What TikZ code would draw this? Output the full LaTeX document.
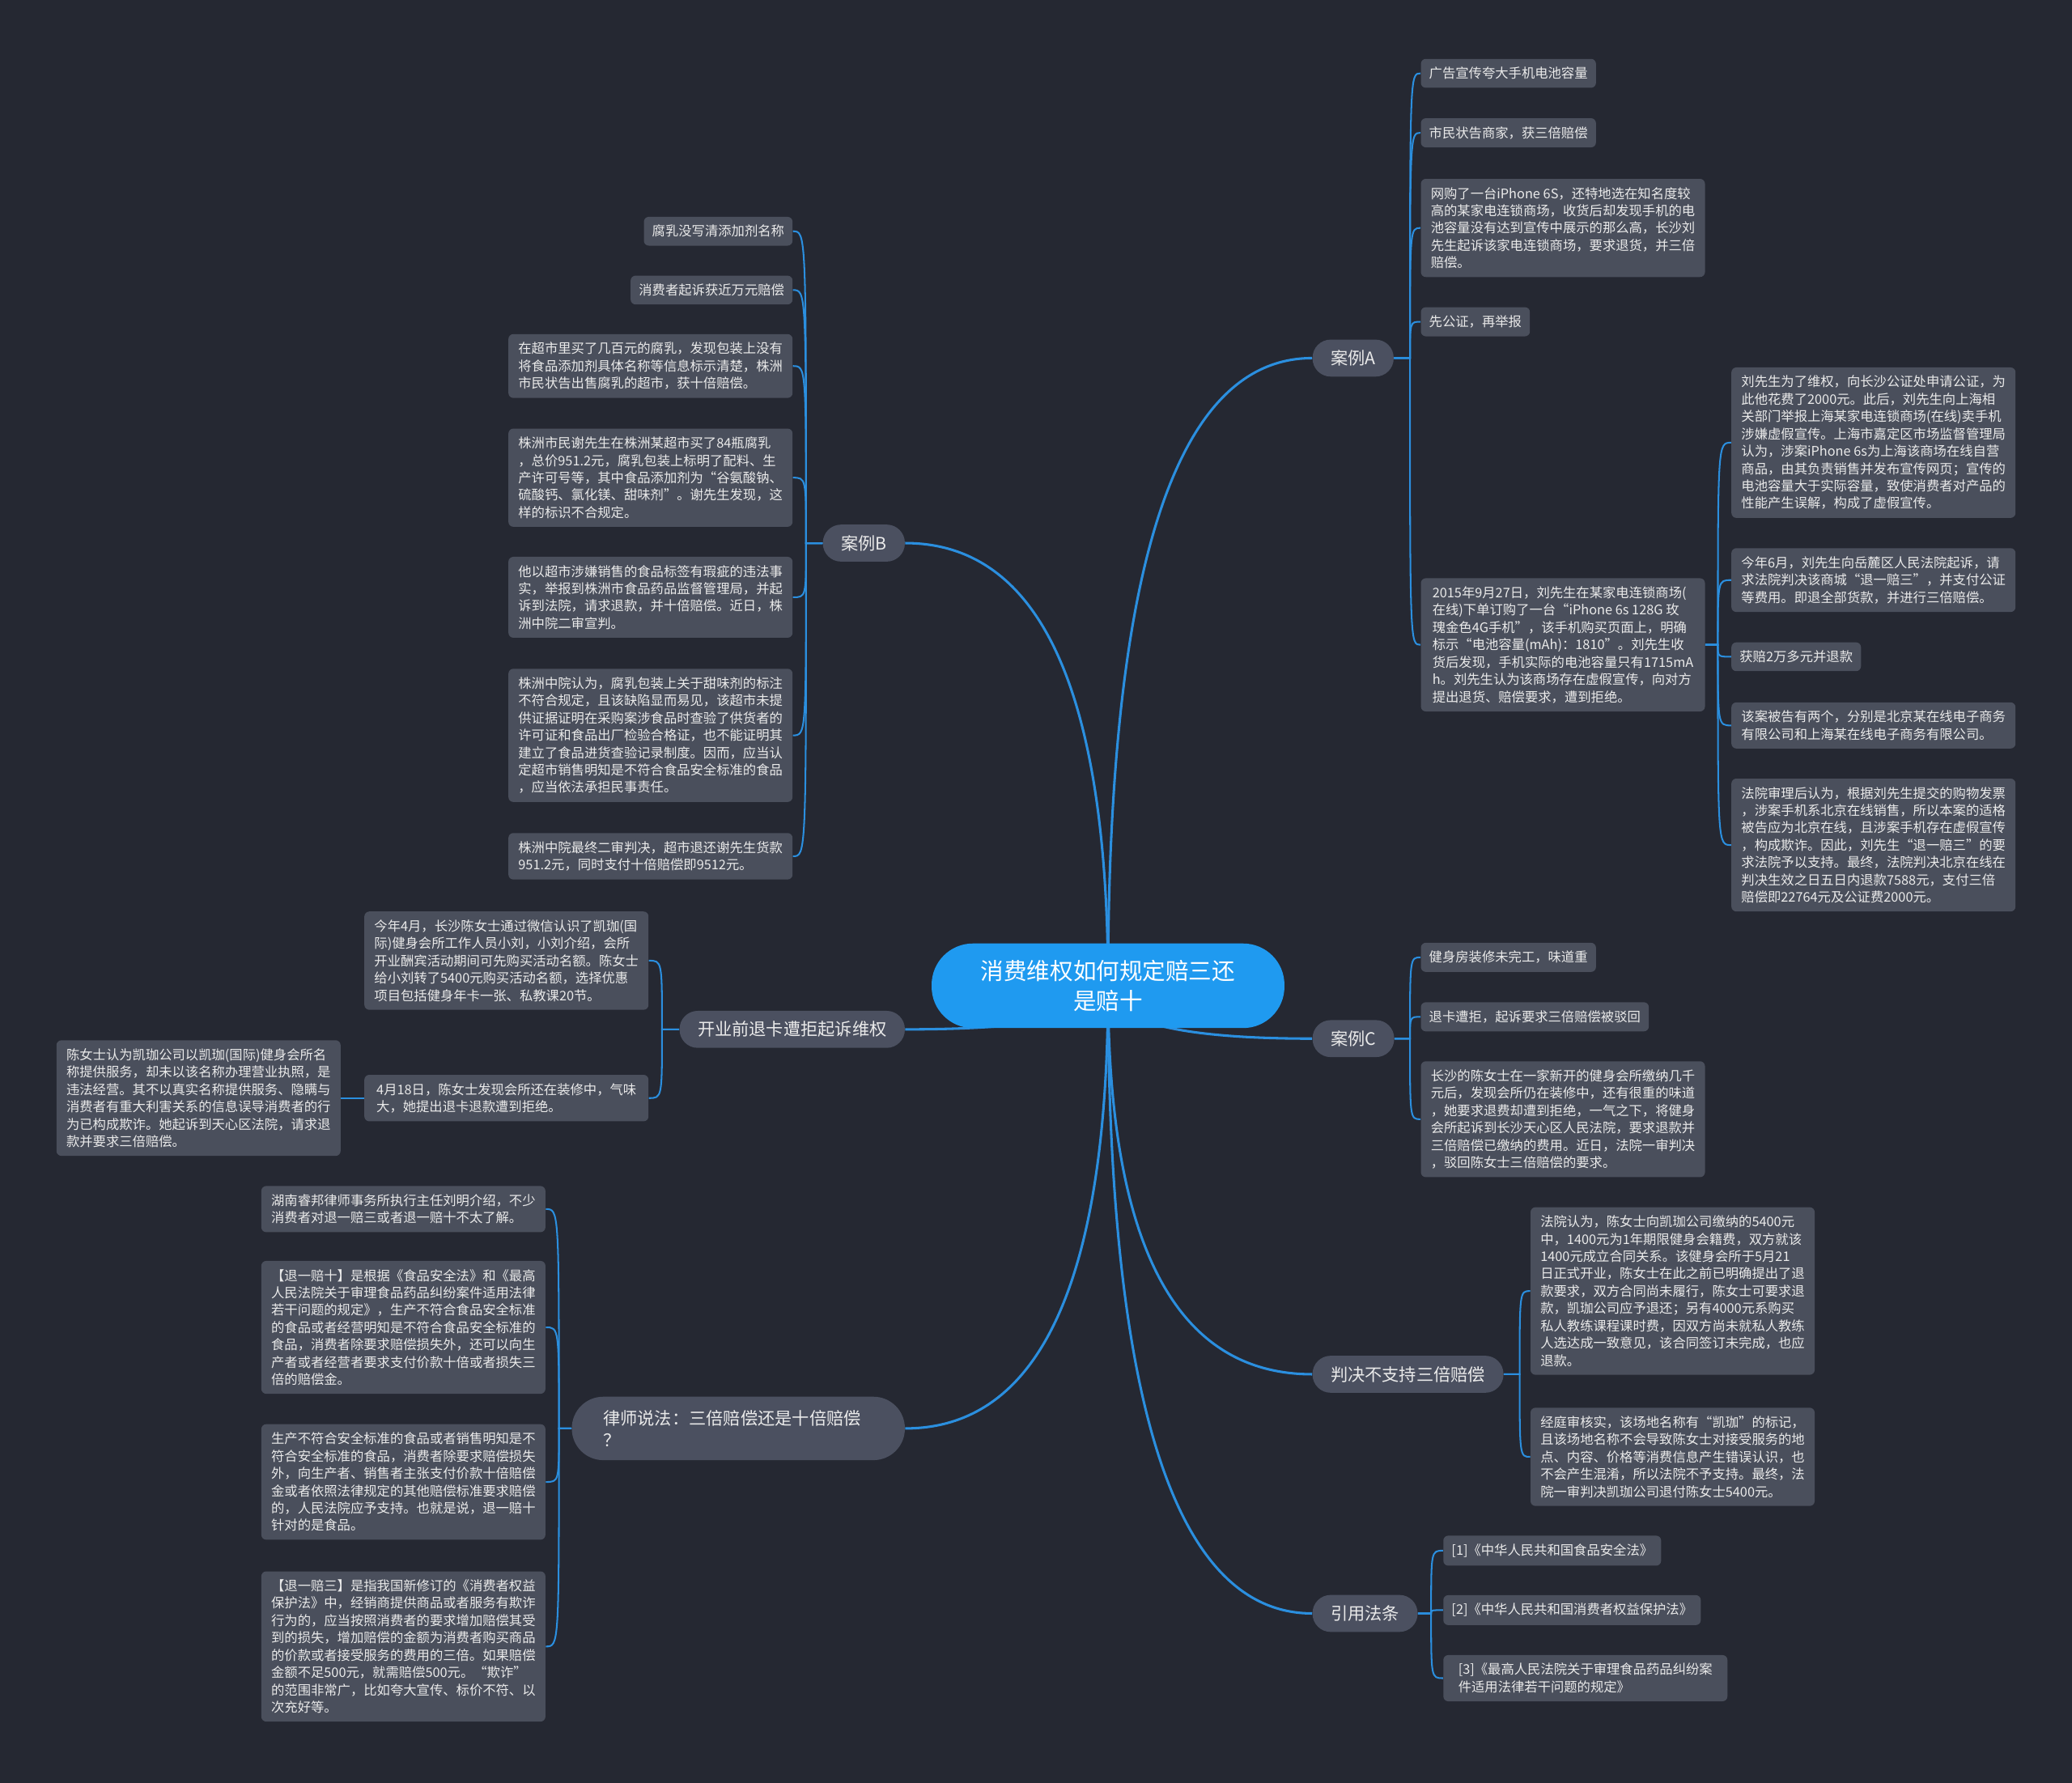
\documentclass[tikz,border=0pt]{standalone}
\usepackage{fontspec}
\setmainfont{Noto Sans CJK SC}
\definecolor{bgc}{HTML}{252832}
\definecolor{leaff}{HTML}{4A4F5C}
\definecolor{mainf}{HTML}{4B5060}
\definecolor{ctrf}{HTML}{1F9AF0}
\definecolor{linec}{HTML}{2B8FDF}
\definecolor{txtc}{HTML}{EAEAEA}
\pgfdeclarelayer{bg}\pgfdeclarelayer{edges}\pgfsetlayers{bg,edges,main}
\begin{document}
\begin{tikzpicture}[x=0.8pt,y=-0.8pt,
 leaf/.style={fill=leaff, rounded corners=3pt, text=txtc, font=\fontsize{8}{10.5}\selectfont, align=left, inner xsep=5pt, inner ysep=5pt},
 wide/.style={leaf, minimum width=172pt},
 topic/.style={fill=mainf, rounded corners=11pt, text=txtc, font=\fontsize{10.4}{13}\selectfont, inner xsep=11pt, minimum height=22.4pt},
 ctrnode/.style={fill=ctrf, text=white, font=\fontsize{14}{18.4}\selectfont, align=center, minimum width=213.6pt, minimum height=51.2pt, rounded corners=25pt},
 mline/.style={draw=linec, line width=1.5pt},
 lline/.style={draw=linec, line width=1pt}]

\begin{pgfonlayer}{bg}
\fill[bgc] (0,0) rectangle (1568,1349.3);
\end{pgfonlayer}

% centre
\node[ctrnode] (ctr) at (838.5,746) {消费维权如何规定赔三还\\是赔十};

% topics
\node[topic, anchor=west] (A) at (993,271) {案例A};
\node[topic, anchor=east] (B) at (685,411) {案例B};
\node[topic, anchor=east] (K) at (685,779) {开业前退卡遭拒起诉维权};
\node[topic, anchor=west] (C) at (993,786) {案例C};
\node[topic, anchor=west] (J) at (993,1040) {判决不支持三倍赔偿};
\node[topic, anchor=east, text width=163.6pt, align=left, inner xsep=19pt, rounded corners=19pt, minimum height=38.4pt] (W) at (685,1081) {律师说法：三倍赔偿还是十倍赔偿\\？};
\node[topic, anchor=west] (Y) at (993,1221) {引用法条};

% case A leaves
\node[leaf, anchor=west] (a1) at (1075,55.5) {广告宣传夸大手机电池容量};
\node[leaf, anchor=west] (a2) at (1075,100.5) {市民状告商家，获三倍赔偿};
\node[wide, anchor=west] (a3) at (1075,172.5) {网购了一台iPhone 6S，还特地选在知名度较\\高的某家电连锁商场，收货后却发现手机的电\\池容量没有达到宣传中展示的那么高，长沙刘\\先生起诉该家电连锁商场，要求退货，并三倍\\赔偿。};
\node[leaf, anchor=west] (a4) at (1075,243.5) {先公证，再举报};
\node[wide, anchor=west] (a5) at (1075,488) {2015年9月27日，刘先生在某家电连锁商场(\\在线)下单订购了一台“iPhone 6s 128G 玫\\瑰金色4G手机”，该手机购买页面上，明确\\标示“电池容量(mAh)：1810”。刘先生收\\货后发现，手机实际的电池容量只有1715mA\\h。刘先生认为该商场存在虚假宣传，向对方\\提出退货、赔偿要求，遭到拒绝。};

\node[wide, anchor=west] (r1) at (1310,335) {刘先生为了维权，向长沙公证处申请公证，为\\此他花费了2000元。此后，刘先生向上海相\\关部门举报上海某家电连锁商场(在线)卖手机\\涉嫌虚假宣传。上海市嘉定区市场监督管理局\\认为，涉案iPhone 6s为上海该商场在线自营\\商品，由其负责销售并发布宣传网页；宣传的\\电池容量大于实际容量，致使消费者对产品的\\性能产生误解，构成了虚假宣传。};
\node[wide, anchor=west] (r2) at (1310,439) {今年6月，刘先生向岳麓区人民法院起诉，请\\求法院判决该商城“退一赔三”，并支付公证\\等费用。即退全部货款，并进行三倍赔偿。};
\node[leaf, anchor=west] (r3) at (1310,497) {获赔2万多元并退款};
\node[wide, anchor=west] (r4) at (1310,549) {该案被告有两个，分别是北京某在线电子商务\\有限公司和上海某在线电子商务有限公司。};
\node[wide, anchor=west] (r5) at (1310,639.5) {法院审理后认为，根据刘先生提交的购物发票\\，涉案手机系北京在线销售，所以本案的适格\\被告应为北京在线，且涉案手机存在虚假宣传\\，构成欺诈。因此，刘先生“退一赔三”的要\\求法院予以支持。最终，法院判决北京在线在\\判决生效之日五日内退款7588元，支付三倍\\赔偿即22764元及公证费2000元。};

% case B leaves
\node[leaf, anchor=east] (b1) at (600,175) {腐乳没写清添加剂名称};
\node[leaf, anchor=east] (b2) at (600,219.5) {消费者起诉获近万元赔偿};
\node[wide, anchor=east] (b3) at (600,277) {在超市里买了几百元的腐乳，发现包装上没有\\将食品添加剂具体名称等信息标示清楚，株洲\\市民状告出售腐乳的超市，获十倍赔偿。};
\node[wide, anchor=east] (b4) at (600,361.5) {株洲市民谢先生在株洲某超市买了84瓶腐乳\\，总价951.2元，腐乳包装上标明了配料、生\\产许可号等，其中食品添加剂为“谷氨酸钠、\\硫酸钙、氯化镁、甜味剂”。谢先生发现，这\\样的标识不合规定。};
\node[wide, anchor=east] (b5) at (600,452) {他以超市涉嫌销售的食品标签有瑕疵的违法事\\实，举报到株洲市食品药品监督管理局，并起\\诉到法院，请求退款，并十倍赔偿。近日，株\\洲中院二审宣判。};
\node[wide, anchor=east] (b6) at (600,556.5) {株洲中院认为，腐乳包装上关于甜味剂的标注\\不符合规定，且该缺陷显而易见，该超市未提\\供证据证明在采购案涉食品时查验了供货者的\\许可证和食品出厂检验合格证，也不能证明其\\建立了食品进货查验记录制度。因而，应当认\\定超市销售明知是不符合食品安全标准的食品\\，应当依法承担民事责任。};
\node[wide, anchor=east] (b7) at (600,648) {株洲中院最终二审判决，超市退还谢先生货款\\951.2元，同时支付十倍赔偿即9512元。};

% K leaves
\node[wide, anchor=east] (k1) at (491,727) {今年4月，长沙陈女士通过微信认识了凯珈(国\\际)健身会所工作人员小刘，小刘介绍，会所\\开业酬宾活动期间可先购买活动名额。陈女士\\给小刘转了5400元购买活动名额，选择优惠\\项目包括健身年卡一张、私教课20节。};
\node[wide, anchor=east] (k2) at (491,831) {4月18日，陈女士发现会所还在装修中，气味\\大，她提出退卡退款遭到拒绝。};
\node[wide, anchor=east] (k3) at (258,831) {陈女士认为凯珈公司以凯珈(国际)健身会所名\\称提供服务，却未以该名称办理营业执照，是\\违法经营。其不以真实名称提供服务、隐瞒与\\消费者有重大利害关系的信息误导消费者的行\\为已构成欺诈。她起诉到天心区法院，请求退\\款并要求三倍赔偿。};

% W leaves
\node[wide, anchor=east] (w1) at (413,915) {湖南睿邦律师事务所执行主任刘明介绍，不少\\消费者对退一赔三或者退一赔十不太了解。};
\node[wide, anchor=east] (w2) at (413,1004.5) {【退一赔十】是根据《食品安全法》和《最高\\人民法院关于审理食品药品纠纷案件适用法律\\若干问题的规定》，生产不符合食品安全标准\\的食品或者经营明知是不符合食品安全标准的\\食品，消费者除要求赔偿损失外，还可以向生\\产者或者经营者要求支付价款十倍或者损失三\\倍的赔偿金。};
\node[wide, anchor=east] (w3) at (413,1121.5) {生产不符合安全标准的食品或者销售明知是不\\符合安全标准的食品，消费者除要求赔偿损失\\外，向生产者、销售者主张支付价款十倍赔偿\\金或者依照法律规定的其他赔偿标准要求赔偿\\的，人民法院应予支持。也就是说，退一赔十\\针对的是食品。};
\node[wide, anchor=east] (w4) at (413,1246) {【退一赔三】是指我国新修订的《消费者权益\\保护法》中，经销商提供商品或者服务有欺诈\\行为的，应当按照消费者的要求增加赔偿其受\\到的损失，增加赔偿的金额为消费者购买商品\\的价款或者接受服务的费用的三倍。如果赔偿\\金额不足500元，就需赔偿500元。“欺诈”\\的范围非常广，比如夸大宣传、标价不符、以\\次充好等。};

% case C leaves
\node[leaf, anchor=west] (c1) at (1075,724.5) {健身房装修未完工，味道重};
\node[leaf, anchor=west] (c2) at (1075,769.5) {退卡遭拒，起诉要求三倍赔偿被驳回};
\node[wide, anchor=west] (c3) at (1075,847) {长沙的陈女士在一家新开的健身会所缴纳几千\\元后，发现会所仍在装修中，还有很重的味道\\，她要求退费却遭到拒绝，一气之下，将健身\\会所起诉到长沙天心区人民法院，要求退款并\\三倍赔偿已缴纳的费用。近日，法院一审判决\\，驳回陈女士三倍赔偿的要求。};

% J leaves
\node[wide, anchor=west] (j1) at (1158,977) {法院认为，陈女士向凯珈公司缴纳的5400元\\中，1400元为1年期限健身会籍费，双方就该\\1400元成立合同关系。该健身会所于5月21\\日正式开业，陈女士在此之前已明确提出了退\\款要求，双方合同尚未履行，陈女士可要求退\\款，凯珈公司应予退还；另有4000元系购买\\私人教练课程课时费，因双方尚未就私人教练\\人选达成一致意见，该合同签订未完成，也应\\退款。};
\node[wide, anchor=west] (j2) at (1158,1102.5) {经庭审核实，该场地名称有“凯珈”的标记，\\且该场地名称不会导致陈女士对接受服务的地\\点、内容、价格等消费信息产生错误认识，也\\不会产生混淆，所以法院不予支持。最终，法\\院一审判决凯珈公司退付陈女士5400元。};

% Y leaves
\node[leaf, anchor=west] (y1) at (1092,1173.5) {[1]《中华人民共和国食品安全法》};
\node[leaf, anchor=west] (y2) at (1092,1218.5) {[2]《中华人民共和国消费者权益保护法》};
\node[wide, anchor=west] (y3) at (1092,1270) {[3]《最高人民法院关于审理食品药品纠纷案\\件适用法律若干问题的规定》};

\begin{pgfonlayer}{edges}
\coordinate (S) at (838.5,746);
\draw[mline] (S) .. controls (838.5,429.3) and (889.7,271) .. (A.west);
\draw[mline] (S) .. controls (838.5,522.7) and (787,411) .. (B.east);
\draw[mline] (S) .. controls (838.5,768) and (787,779) .. (K.east);
\draw[mline] (S) .. controls (838.5,772.7) and (889.7,786) .. (C.west);
\draw[mline] (S) .. controls (838.5,942) and (889.7,1040) .. (J.west);
\draw[mline] (S) .. controls (838.5,969.3) and (787,1081) .. (W.east);
\draw[mline] (S) .. controls (838.5,1062.7) and (889.7,1221) .. (Y.west);

\coordinate (aT) at (1067,271);
\foreach \n in {a1,a2,a3,a4,a5}
  \draw[lline] (A.east) -- (aT) .. controls (\n.west -| aT) .. (\n.west);
\coordinate (rT) at (1300,488);
\foreach \n in {r1,r2,r3,r4,r5}
  \draw[lline] (a5.east) -- (rT) .. controls (\n.west -| rT) .. (\n.west);
\coordinate (bT) at (610,411);
\foreach \n in {b1,b2,b3,b4,b5,b6,b7}
  \draw[lline] (B.west) -- (bT) .. controls (\n.east -| bT) .. (\n.east);
\coordinate (kT) at (501,779);
\foreach \n in {k1,k2}
  \draw[lline] (K.west) -- (kT) .. controls (\n.east -| kT) .. (\n.east);
\draw[lline] (k2.west) -- (k3.east);
\coordinate (wT) at (423,1081);
\foreach \n in {w1,w2,w3,w4}
  \draw[lline] (W.west) -- (wT) .. controls (\n.east -| wT) .. (\n.east);
\coordinate (cT) at (1067,786);
\foreach \n in {c1,c2,c3}
  \draw[lline] (C.east) -- (cT) .. controls (\n.west -| cT) .. (\n.west);
\coordinate (jT) at (1150,1040);
\foreach \n in {j1,j2}
  \draw[lline] (J.east) -- (jT) .. controls (\n.west -| jT) .. (\n.west);
\coordinate (yT) at (1083,1221);
\foreach \n in {y1,y2,y3}
  \draw[lline] (Y.east) -- (yT) .. controls (\n.west -| yT) .. (\n.west);
\end{pgfonlayer}
\end{tikzpicture}
\end{document}
